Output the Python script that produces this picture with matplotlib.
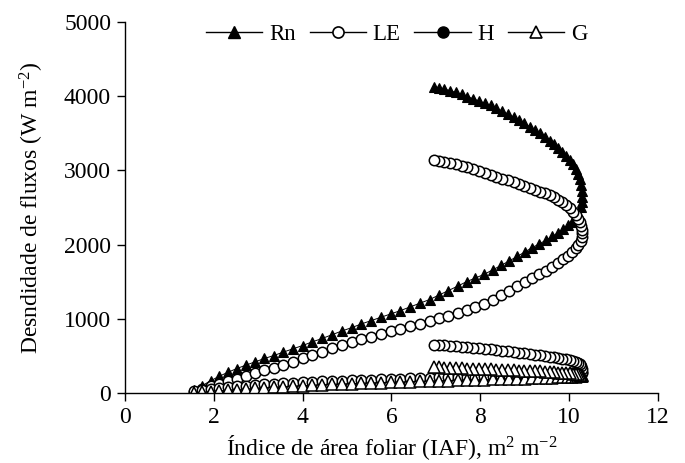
import matplotlib
matplotlib.use("Agg")
import matplotlib.pyplot as plt
import matplotlib.font_manager as fm
from matplotlib.lines import Line2D

# make sure the Times-like serif is registered
for f in fm.findSystemFonts():
    if 'LiberationSerif' in f.replace(' ', ''):
        fm.fontManager.addfont(f)

plt.rcParams['font.family'] = ['Liberation Serif', 'Times New Roman', 'Nimbus Roman', 'DejaVu Serif']
plt.rcParams['mathtext.fontset'] = 'custom'
plt.rcParams['mathtext.rm'] = 'Liberation Serif'
plt.rcParams['mathtext.it'] = 'Liberation Serif:italic'

# leaf area index over the season (rises, then falls)
iaf = [1.55, 1.74, 1.93, 2.12, 2.32, 2.52, 2.72, 2.93, 3.14, 3.35,
       3.56, 3.78, 4.00, 4.22, 4.44, 4.66, 4.88, 5.10, 5.32, 5.54,
       5.76, 5.98, 6.20, 6.42, 6.64, 6.86, 7.07, 7.28, 7.49, 7.69,
       7.89, 8.09, 8.28, 8.47, 8.65, 8.83, 9.00, 9.17, 9.33, 9.48,
       9.62, 9.75, 9.87, 9.98, 10.07, 10.15, 10.21, 10.26, 10.29, 10.30,
       10.29, 10.27, 10.24, 10.20, 10.15, 10.09, 10.02, 9.94, 9.85, 9.76,
       9.66, 9.56, 9.45, 9.34, 9.23, 9.11, 8.99, 8.87, 8.75, 8.62,
       8.49, 8.36, 8.23, 8.10, 7.97, 7.84, 7.71, 7.58, 7.45, 7.32,
       7.19, 7.06, 6.95]

rn = [40, 100, 165, 225, 280, 330, 375, 420, 465, 505,
      550, 595, 640, 690, 735, 785, 835, 880, 930, 975,
      1020, 1065, 1110, 1160, 1210, 1260, 1320, 1380, 1440, 1500,
      1550, 1600, 1660, 1720, 1780, 1840, 1900, 1960, 2010, 2060,
      2110, 2160, 2210, 2260, 2310, 2370, 2430, 2500, 2570, 2640,
      2720, 2800, 2880, 2950, 3020, 3080, 3135, 3195, 3250, 3300,
      3350, 3400, 3450, 3500, 3545, 3590, 3635, 3680, 3720, 3760,
      3800, 3840, 3875, 3905, 3935, 3965, 3995, 4025, 4050, 4075,
      4095, 4115, 4130]

le = [15, 50, 90, 125, 160, 195, 235, 270, 305, 340,
      380, 420, 465, 510, 555, 600, 645, 685, 725, 760,
      795, 830, 865, 900, 935, 970, 1005, 1040, 1080, 1115,
      1155, 1205, 1260, 1320, 1380, 1440, 1500, 1550, 1600, 1650,
      1700, 1750, 1800, 1850, 1900, 1950, 2000, 2050, 2100, 2150,
      2200, 2250, 2300, 2350, 2400, 2445, 2490, 2530, 2570, 2605,
      2635, 2665, 2690, 2715, 2740, 2765, 2790, 2815, 2840, 2865,
      2890, 2915, 2940, 2965, 2990, 3015, 3040, 3060, 3080, 3100,
      3115, 3130, 3140]

h = [30, 45, 58, 70, 82, 92, 101, 110, 118, 126,
     133, 140, 146, 152, 158, 163, 168, 173, 177, 181,
     185, 189, 193, 197, 201, 205, 209, 213, 216, 219,
     222, 225, 228, 231, 234, 237, 240, 243, 246, 249,
     252, 255, 258, 261, 264, 267, 270, 273, 276, 280,
     330, 360, 385, 405, 420, 432, 443, 454, 464, 473,
     482, 491, 500, 509, 518, 527, 536, 545, 554, 563,
     572, 581, 590, 598, 606, 613, 620, 626, 632, 637,
     642, 646, 650]

g = [0, 10, 20, 30, 38, 46, 54, 62, 70, 77,
     84, 91, 98, 104, 110, 116, 121, 126, 131, 136,
     140, 144, 148, 152, 156, 160, 164, 168, 171, 174,
     177, 180, 183, 186, 189, 192, 195, 198, 201, 204,
     207, 210, 213, 216, 219, 222, 225, 228, 231, 234,
     240, 244, 248, 252, 256, 260, 264, 268, 272, 276,
     280, 284, 288, 291, 294, 297, 300, 303, 306, 309,
     312, 315, 318, 321, 324, 327, 330, 333, 336, 339,
     342, 346, 350]

fig = plt.figure(figsize=(6.85, 4.63), dpi=100)
ax = fig.add_axes([0.1825, 0.1512, 0.778, 0.8013])

ax.plot(iaf, rn, color='black', lw=0.7, marker='^', ms=7.5, mfc='black', mec='black', mew=0.8)
ax.plot(iaf, le, color='black', lw=0.7, marker='o', ms=7.5, mfc='white', mec='black', mew=1.1)
ax.plot(iaf, h, color='black', lw=0.7, marker='o', ms=7.5, mfc='white', mec='black', mew=1.1)
ax.plot(iaf, g, color='black', lw=0.7, marker='^', ms=8.5, mfc='white', mec='black', mew=1.1)

ax.set_xlim(0, 12)
ax.set_ylim(0, 5000)
ax.set_xticks(range(0, 13, 2))
ax.set_yticks(range(0, 5001, 1000))
for s in ['top', 'right']:
    ax.spines[s].set_visible(False)
for s in ['left', 'bottom']:
    ax.spines[s].set_linewidth(1.0)
ax.tick_params(direction='out', length=6, width=1.0, labelsize=17, pad=4)

ax.set_xlabel('Índice de área foliar (IAF), m$^{2}$ m$^{-2}$', fontsize=17, labelpad=4)
ax.set_ylabel('Desndidade de fluxos (W m$^{-2}$)', fontsize=17, labelpad=13)

handles = [
    Line2D([], [], color='black', lw=1.0, marker='^', ms=8, mfc='black', mec='black'),
    Line2D([], [], color='black', lw=1.0, marker='o', ms=8, mfc='white', mec='black', mew=1.2),
    Line2D([], [], color='black', lw=1.0, marker='o', ms=8, mfc='black', mec='black'),
    Line2D([], [], color='black', lw=1.0, marker='^', ms=9, mfc='white', mec='black', mew=1.2),
]
ax.legend(handles, ['Rn', 'LE', 'H', 'G'], loc='upper center', bbox_to_anchor=(0.51, 1.02),
          ncol=4, frameon=False, fontsize=16.5, handlelength=2.45, handletextpad=0.3,
          columnspacing=0.6, numpoints=1, borderaxespad=0)

fig.savefig('out.png', dpi=100)
